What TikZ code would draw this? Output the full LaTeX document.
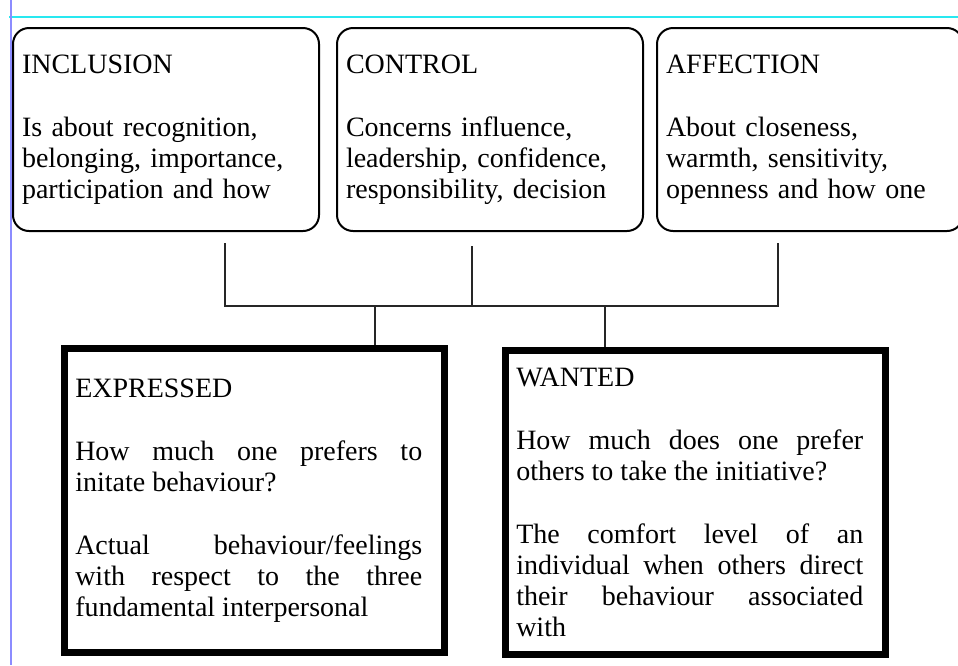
\documentclass[tikz,border=0pt]{standalone}
\usepackage{fontspec}
\setmainfont{Liberation Serif}
\usetikzlibrary{positioning}
\definecolor{guidecyan}{RGB}{40,232,240}
\definecolor{guideblue}{RGB}{140,140,255}
\tikzset{%
  trait box/.style={
    draw,
    line width=2pt,
    rounded corners=16pt,
    text width=288pt,
    inner xsep=9pt,
    minimum height=203pt,
    align=left
  },
  need box/.style={
    draw,
    line width=6.5pt,
    text width=358pt,
    inner xsep=11pt,
    minimum height=304pt,
    align=justify,
    execute at begin node={\rightskip=11pt\parskip=32pt\relax}
  },
}

\begin{document}
\begin{tikzpicture}[x=1pt,y=-1pt,font=\fontsize{28}{31}\selectfont]
        \tikzstyle{link}=[line width=2.2pt,draw=black!85]
        \useasboundingbox (0,0) rectangle (958,665);
        \draw[guidecyan,line width=2pt] (9,17) -- (958,17);
        \draw[guideblue,line width=2pt] (11,0) -- (11,665);

        \node[trait box,anchor=north west] (inclusion) at (12,27) {INCLUSION\\[32pt]Is about recognition,\\belonging, importance,\\participation and how};
        \node[trait box,right=16pt of inclusion] (control) {CONTROL\\[32pt]Concerns influence,\\leadership, confidence,\\responsibility, decision};
        \node[trait box,right=12pt of control] (affection) {AFFECTION\\[32pt]About closeness,\\warmth, sensitivity,\\openness and how one};

        \node[need box,anchor=north west] (expressed) at (61,345) {EXPRESSED\par How much one prefers to\linebreak initate behaviour?\par Actual behaviour/feelings\linebreak with respect to the three\linebreak fundamental interpersonal};
        \node[need box,anchor=north west] (wanted) at (502,347) {WANTED\par How much does one prefer\linebreak others to take the initiative?\par The comfort level of an\linebreak individual when others direct\linebreak their behaviour associated\linebreak with};

        \coordinate (inclusion-tap) at (225,243);
        \coordinate (control-tap) at (472,246);
        \coordinate (affection-tap) at (778,243);
        \coordinate (expressed-tap) at (375,306);
        \coordinate (wanted-tap) at (605,306);

        \draw[link] (inclusion-tap) |- (affection-tap |- expressed-tap) -- (affection-tap);
        \draw[link] (control-tap) -- (control-tap |- expressed-tap);
        \draw[link] (expressed-tap) -- (expressed.north -| expressed-tap);
        \draw[link] (wanted-tap) -- (wanted.north -| wanted-tap);
    \end{tikzpicture}
\end{document}
